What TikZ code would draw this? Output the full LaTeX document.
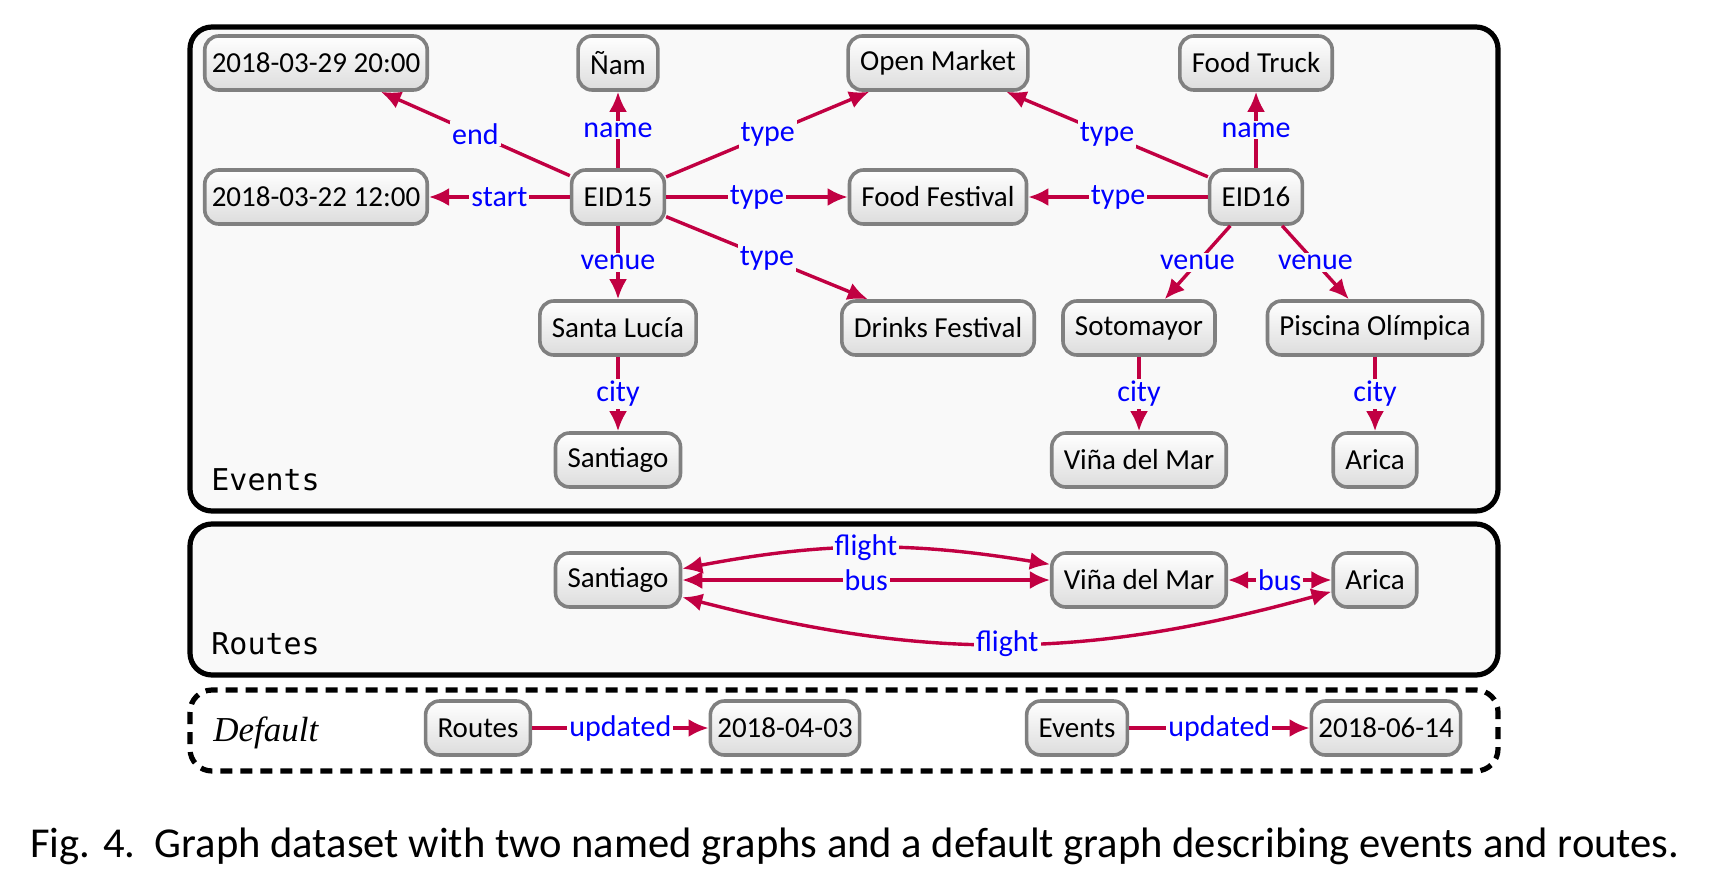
\documentclass[tikz,border=0pt]{standalone}
\usepackage{fontspec}
\newfontfamily\nodefont{Carlito}
\newfontfamily\graphmono{DejaVu Sans Mono}
\newfontfamily\serifit{Liberation Serif}
\usetikzlibrary{arrows.meta}
\definecolor{edgecol}{RGB}{193,0,66}
\definecolor{lblcol}{RGB}{0,0,255}
\definecolor{boxbg}{RGB}{249,249,249}
\definecolor{nodeborder}{RGB}{128,128,128}
\tikzset{
 res/.style={draw=nodeborder, line width=1.8pt, rounded corners=7pt, top color=white, bottom color=gray!27, inner xsep=6pt, minimum height=27pt, font=\nodefont\fontsize{14.5}{16}\selectfont},
 dateres/.style={res, inner xsep=3.5pt},
 rel/.style={draw=edgecol, line width=1.7pt, -{Latex[length=10pt,width=9pt]}},
 birel/.style={draw=edgecol, line width=1.7pt, {Latex[length=10pt,width=9pt]}-{Latex[length=10pt,width=9pt]}},
 lbl/.style={text=lblcol, fill=boxbg, inner sep=1pt, font=\nodefont\fontsize{15}{16}\selectfont},
 graphbox/.style={draw=black, line width=2.6pt, rounded corners=11pt, fill=boxbg},
 defbox/.style={draw=black, line width=2.6pt, rounded corners=11pt, dash pattern=on 6pt off 4pt},
 gname/.style={anchor=base west, font=\graphmono\fontsize{15}{18}\selectfont, inner sep=0pt},
}
\begin{document}
\begin{tikzpicture}[x=0.5pt,y=0.5pt]
\useasboundingbox (0,0) rectangle (1734,-873);
% containers
\draw[graphbox] (190,-27) rectangle (1498,-511);
\draw[graphbox] (190,-524) rectangle (1498,-675);
\draw[defbox] (190,-690) rectangle (1498,-771);
\node[gname] (gev) at (211,-490) {Events};
\node[gname] (grt) at (211,-654) {Routes};
\node[anchor=base west, inner sep=0pt, font=\serifit\itshape\fontsize{17.5}{20}\selectfont] (gdf) at (213,-741) {Default};
% Events graph
\node[dateres] (d1) at (316,-63) {2018-03-29 20:00};
\node[res] (nam) at (618,-63) {Ñam};
\node[res] (om) at (938,-63) {Open Market};
\node[res] (ft) at (1256,-63) {Food Truck};
\node[dateres] (d2) at (316,-197) {2018-03-22 12:00};
\node[res] (eid15) at (618,-197) {EID15};
\node[res] (ff) at (938,-197) {Food Festival};
\node[res] (eid16) at (1256,-197) {EID16};
\node[res] (sl) at (618,-328) {Santa Lucía};
\node[res] (df) at (938,-328) {Drinks Festival};
\node[res] (so) at (1139,-328) {Sotomayor};
\node[res] (po) at (1375,-328) {Piscina Olímpica};
\node[res] (sa1) at (618,-460) {Santiago};
\node[res] (vm1) at (1139,-460) {Viña del Mar};
\node[res] (ar1) at (1375,-460) {Arica};
\draw[rel] (eid15) -- node[lbl]{end} (d1);
\draw[rel] (eid15) -- node[lbl]{name} (nam);
\draw[rel] (eid15) -- node[lbl]{type} (om);
\draw[rel] (eid15) -- node[lbl]{start} (d2);
\draw[rel] (eid15) -- node[lbl]{type} (ff);
\draw[rel] (eid15) -- node[lbl]{venue} (sl);
\draw[rel] (eid15) -- node[lbl]{type} (df);
\draw[rel] (sl) -- node[lbl]{city} (sa1);
\draw[rel] (eid16) -- node[lbl]{type} (om);
\draw[rel] (eid16) -- node[lbl]{name} (ft);
\draw[rel] (eid16) -- node[lbl]{type} (ff);
\draw[rel] (eid16) -- node[lbl]{venue} (so);
\draw[rel] (eid16) -- node[lbl]{venue} (po);
\draw[rel] (so) -- node[lbl]{city} (vm1);
\draw[rel] (po) -- node[lbl]{city} (ar1);
% Routes graph
\node[res] (sa2) at (618,-580) {Santiago};
\node[res] (vm2) at (1139,-580) {Viña del Mar};
\node[res] (ar2) at (1375,-580) {Arica};
\draw[birel] (sa2) to[bend left=10] node[lbl]{flight} (vm2);
\draw[birel] (sa2) -- node[lbl]{bus} (vm2);
\draw[birel] (vm2) -- node[lbl]{bus} (ar2);
\draw[birel] (sa2) to[bend right=15] node[lbl]{flight} (ar2);
% Default graph
\node[res] (rt) at (478,-728) {Routes};
\node[dateres] (d3) at (785,-728) {2018-04-03};
\node[res] (ev) at (1077,-728) {Events};
\node[dateres] (d4) at (1386,-728) {2018-06-14};
\draw[rel] (rt) -- node[lbl, fill=white]{updated} (d3);
\draw[rel] (ev) -- node[lbl, fill=white]{updated} (d4);
% caption
\node[anchor=base west, inner sep=0pt, font=\nodefont\fontsize{21.3}{24}\selectfont] (cap) at (30,-857) {Fig. 4.\ \ Graph dataset with two named graphs and a default graph describing events and routes.};
\end{tikzpicture}
\end{document}
